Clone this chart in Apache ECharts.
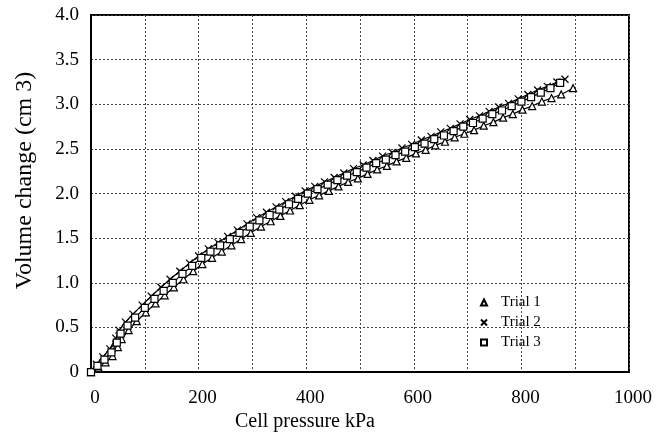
<!DOCTYPE html>
<html><head><meta charset="utf-8">
<script src="https://cdn.jsdelivr.net/npm/echarts@6/dist/echarts.min.js"></script>
<style>html,body{margin:0;padding:0;background:#fff}#c{width:668px;height:437px}</style>
</head><body><div id="c"></div>
<script>
const xTicks = [0, 200, 400, 600, 800, 1000];
const yTicks = ['0', '0.5', '1.0', '1.5', '2.0', '2.5', '3.0', '3.5', '4.0'];
const seriesNames = ['Trial 1', 'Trial 2', 'Trial 3'];

const trial1X = [0, 14, 27, 40, 50, 57, 70, 85, 102, 120, 137, 154, 172, 190, 207, 225, 243, 261, 279, 297, 316, 334, 352, 370, 388, 406, 424, 442, 460, 478, 496, 514, 532, 550, 568, 586, 604, 622, 640, 658, 676, 694, 712, 730, 748, 766, 784, 802, 820, 838, 856, 874, 896];
const trial1Y = [0, 0.05, 0.11, 0.18, 0.28, 0.37, 0.47, 0.57, 0.67, 0.77, 0.86, 0.95, 1.04, 1.13, 1.21, 1.28, 1.35, 1.42, 1.49, 1.56, 1.63, 1.69, 1.75, 1.81, 1.87, 1.93, 1.98, 2.03, 2.08, 2.13, 2.17, 2.22, 2.27, 2.31, 2.36, 2.40, 2.45, 2.49, 2.54, 2.58, 2.63, 2.67, 2.71, 2.76, 2.80, 2.85, 2.89, 2.94, 2.98, 3.03, 3.07, 3.11, 3.18];

const trial2X = [0, 10, 22, 35, 46, 52, 64, 78, 95, 112, 130, 147, 165, 183, 200, 218, 236, 254, 272, 290, 308, 326, 344, 362, 380, 398, 416, 434, 452, 470, 488, 506, 524, 542, 560, 578, 596, 614, 632, 650, 668, 686, 704, 722, 740, 758, 776, 794, 812, 830, 848, 866, 881];
const trial2Y = [0, 0.09, 0.17, 0.26, 0.38, 0.47, 0.56, 0.65, 0.75, 0.85, 0.95, 1.04, 1.13, 1.22, 1.30, 1.38, 1.45, 1.52, 1.59, 1.66, 1.73, 1.79, 1.85, 1.91, 1.97, 2.03, 2.08, 2.13, 2.18, 2.23, 2.28, 2.32, 2.37, 2.42, 2.46, 2.51, 2.55, 2.60, 2.64, 2.69, 2.73, 2.78, 2.83, 2.87, 2.92, 2.97, 3.01, 3.06, 3.11, 3.16, 3.20, 3.25, 3.28];

const trial3X = [0, 12, 25, 38, 48, 55, 68, 82, 100, 118, 135, 152, 170, 188, 205, 222, 240, 258, 276, 295, 313, 332, 350, 368, 385, 403, 421, 440, 458, 476, 494, 512, 530, 548, 566, 584, 602, 620, 638, 656, 674, 692, 710, 728, 746, 764, 782, 800, 818, 836, 854, 872];
const trial3Y = [0, 0.07, 0.14, 0.22, 0.33, 0.43, 0.52, 0.61, 0.72, 0.82, 0.91, 1.00, 1.10, 1.19, 1.28, 1.35, 1.42, 1.49, 1.56, 1.63, 1.70, 1.76, 1.82, 1.88, 1.94, 2.00, 2.05, 2.10, 2.15, 2.20, 2.24, 2.29, 2.34, 2.38, 2.43, 2.47, 2.52, 2.56, 2.61, 2.65, 2.70, 2.75, 2.79, 2.84, 2.89, 2.93, 2.98, 3.03, 3.08, 3.13, 3.18, 3.24];

const pairs = (xs, ys) => xs.map((x, i) => [x, ys[i]]);
const crossPath = 'path://M0,0L10,10M10,0L0,10';
const font = 'Liberation Serif';

const chart = echarts.init(document.getElementById('c'), null, {renderer: 'canvas'});
const mk = (name, data, symbol, size) => ({
  name, type: 'line', data, symbol, symbolSize: size, showSymbol: true,
  lineStyle: {color: '#000', width: 1.2},
  itemStyle: {color: '#fff', borderColor: '#000', borderWidth: 1.2},
  emphasis: {disabled: true}, animation: false, z: 3
});
chart.setOption({
  animation: false,
  backgroundColor: '#fff',
  grid: {left: 91, right: 39, top: 15, bottom: 64, show: true, borderColor: '#000', borderWidth: 2, backgroundColor: 'transparent'},
  legend: {
    orient: 'vertical', left: 475, top: 290, itemGap: 5, itemWidth: 6, itemHeight: 6,
    textStyle: {fontFamily: font, fontSize: 15, color: '#000', padding: [0, 0, 0, 9]},
    data: [
      {name: 'Trial 1', icon: 'triangle'},
      {name: 'Trial 2', icon: crossPath},
      {name: 'Trial 3', icon: 'rect'}
    ]
  },
  xAxis: {
    type: 'value', min: 0, max: 1000, interval: 100,
    name: 'Cell pressure kPa', nameLocation: 'middle', nameGap: 38,
    nameTextStyle: {fontFamily: font, fontSize: 20, color: '#000', padding: [0, 110, 0, 0]},
    axisLine: {show: true, lineStyle: {color: '#000', width: 2}},
    axisTick: {show: false},
    axisLabel: {fontFamily: font, fontSize: 19, color: '#000', margin: 16, padding: [0, 0, 0, 8],
      formatter: v => xTicks.includes(v) ? String(v) : ''},
    splitLine: {show: true, lineStyle: {color: '#444', type: [2, 2], width: 1}}
  },
  yAxis: {
    type: 'value', min: 0, max: 4, interval: 0.5,
    name: 'Volume change (cm 3)', nameLocation: 'middle', nameGap: 54,
    nameTextStyle: {fontFamily: font, fontSize: 24, color: '#000', padding: [0, 0, 0, 26]},
    axisLine: {show: true, lineStyle: {color: '#000', width: 2}},
    axisTick: {show: false},
    axisLabel: {fontFamily: font, fontSize: 19, color: '#000', margin: 12,
      formatter: v => yTicks[Math.round(v / 0.5)]},
    splitLine: {show: true, lineStyle: {color: '#444', type: [2, 2], width: 1}}
  },
  series: [
    mk(seriesNames[0], pairs(trial1X, trial1Y), 'triangle', 7),
    mk(seriesNames[1], pairs(trial2X, trial2Y), crossPath, 7),
    mk(seriesNames[2], pairs(trial3X, trial3Y), 'rect', 7)
  ]
});
</script></body></html>
